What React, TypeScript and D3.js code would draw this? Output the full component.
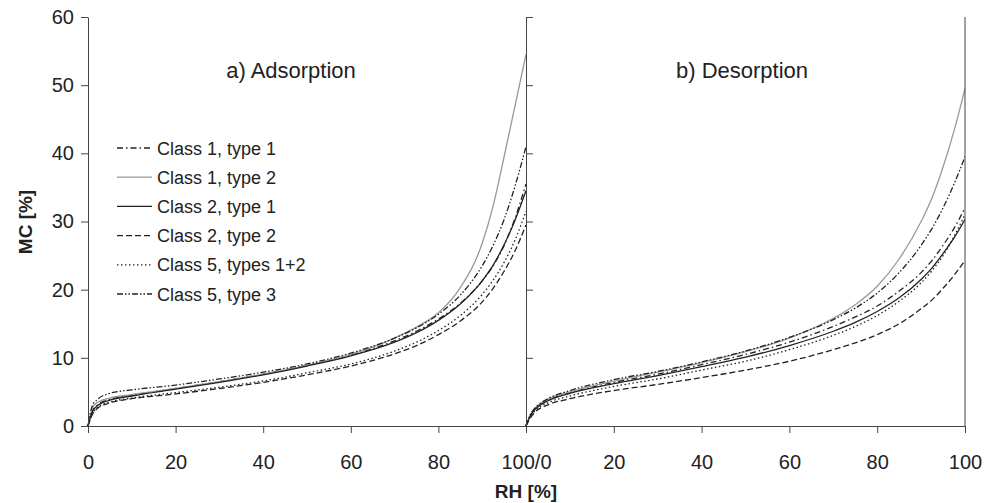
import React, { useEffect, useRef } from 'react';
import * as d3 from 'd3';

// relative humidity sample points (%)
const rh = [0, 1, 2, 5, 10, 20, 30, 40, 50, 60, 70, 75, 80, 85, 90, 92.5, 95, 97.5, 100];

// adsorption MC [%]
const adsC1T1 = [0, 2.2, 3.0, 3.9, 4.5, 5.5, 6.5, 7.6, 8.9, 10.4, 12.5, 13.9, 15.7, 18.0, 21.3, 23.5, 26.5, 30.5, 35.5];
const adsC1T2 = [0, 2.6, 3.4, 4.1, 4.6, 5.5, 6.5, 7.6, 8.9, 10.5, 12.9, 14.5, 16.6, 20.3, 26.8, 32.3, 39.5, 47.0, 54.5];
const adsC2T1 = [0, 2.1, 2.9, 3.8, 4.4, 5.4, 6.4, 7.5, 8.8, 10.3, 12.3, 13.7, 15.5, 17.9, 21.3, 23.6, 26.6, 30.2, 34.5];
const adsC2T2 = [0, 1.7, 2.5, 3.4, 4.0, 4.7, 5.5, 6.4, 7.5, 8.8, 10.6, 11.8, 13.4, 15.4, 18.2, 20.2, 22.7, 25.7, 29.5];
const adsC5T12 = [0, 1.8, 2.6, 3.5, 4.1, 4.9, 5.7, 6.6, 7.8, 9.1, 11.0, 12.3, 14.0, 16.2, 19.3, 21.4, 24.0, 27.3, 31.5];
const adsC5T3 = [0, 3.0, 3.8, 4.8, 5.3, 6.0, 6.9, 7.9, 9.1, 10.7, 12.9, 14.4, 16.4, 19.2, 23.5, 26.5, 30.3, 35.2, 41.0];

// desorption MC [%]
const desC1T1 = [0, 1.6, 2.5, 3.8, 4.9, 6.4, 7.6, 9.0, 10.5, 12.3, 14.6, 16.0, 17.6, 19.8, 22.5, 24.3, 26.5, 29.0, 32.0];
const desC1T2 = [0, 1.6, 2.5, 3.9, 5.0, 6.6, 7.9, 9.3, 10.9, 12.9, 15.8, 17.8, 20.5, 24.5, 30.0, 33.5, 38.0, 43.3, 49.5];
const desC2T1 = [0, 1.5, 2.4, 3.7, 4.8, 6.2, 7.4, 8.7, 10.1, 11.8, 13.9, 15.2, 16.8, 18.8, 21.5, 23.2, 25.3, 27.6, 30.3];
const desC2T2 = [0, 1.2, 2.0, 3.1, 4.0, 5.2, 6.1, 7.1, 8.2, 9.5, 11.2, 12.2, 13.4, 15.0, 17.2, 18.5, 20.2, 22.1, 24.3];
const desC5T12 = [0, 1.4, 2.2, 3.4, 4.4, 5.8, 6.9, 8.2, 9.5, 11.2, 13.3, 14.6, 16.2, 18.3, 21.0, 22.8, 25.0, 27.8, 31.0];
const desC5T3 = [0, 1.7, 2.6, 4.0, 5.2, 6.8, 8.0, 9.4, 11.0, 13.0, 15.6, 17.3, 19.5, 22.5, 26.5, 29.0, 32.0, 35.5, 39.5];

const seriesNames = ['Class 1, type 1', 'Class 1, type 2', 'Class 2, type 1', 'Class 2, type 2', 'Class 5, types 1+2', 'Class 5, type 3'];
const adsSeries = [adsC1T1, adsC1T2, adsC2T1, adsC2T2, adsC5T12, adsC5T3];
const desSeries = [desC1T1, desC1T2, desC2T1, desC2T2, desC5T12, desC5T3];

const yTicks = [0, 10, 20, 30, 40, 50, 60];
const xTicksLeft = [0, 20, 40, 60, 80];
const xTicksRight = [0, 20, 40, 60, 80, 100];

const styles = [
  { color: '#222', dash: '6,3,1.5,3' },
  { color: '#999', dash: null },
  { color: '#222', dash: null },
  { color: '#222', dash: '6,3' },
  { color: '#222', dash: '1.5,2.5' },
  { color: '#222', dash: '6,2,1.5,2,1.5,2' }
];

export default function App() {
  const svgRef = useRef<SVGSVGElement>(null);

  useEffect(() => {
    const width = 997;
    const height = 503;
    const font = 'Arial, "Liberation Sans", sans-serif';
    const axisColor = '#444';

    const svg = d3.select(svgRef.current);
    svg.selectAll('*').remove();
    svg.attr('width', width).attr('height', height);

    const xLeft = d3.scaleLinear().domain([0, 100]).range([88, 526]);
    const xRight = d3.scaleLinear().domain([0, 100]).range([526, 965]);
    const y = d3.scaleLinear().domain([0, 60]).range([426, 17]);

    // curves
    const drawPanel = (x: d3.ScaleLinear<number, number>, series: number[][]) => {
      series.forEach((vals, i) => {
        const line = d3.line<number>()
          .x((_, j) => x(rh[j]))
          .y(d => y(d))
          .curve(d3.curveMonotoneX);
        svg.append('path')
          .datum(vals)
          .attr('fill', 'none')
          .attr('stroke', styles[i].color)
          .attr('stroke-width', 1.3)
          .attr('stroke-dasharray', styles[i].dash)
          .attr('d', line);
      });
    };
    drawPanel(xLeft, adsSeries);
    drawPanel(xRight, desSeries);

    // y axis
    const yAxis = svg.append('g')
      .attr('transform', 'translate(88,0)')
      .call(d3.axisLeft(y).tickValues(yTicks).tickSize(7).tickSizeOuter(0).tickPadding(7));
    yAxis.selectAll('text').attr('font-size', 20).attr('font-family', font).attr('fill', '#222');

    // middle divider with ticks on the right
    svg.append('g')
      .attr('transform', 'translate(526,0)')
      .call(d3.axisRight(y).tickValues(yTicks).tickSize(7).tickSizeOuter(0).tickFormat(() => ''));

    // right border
    svg.append('line')
      .attr('x1', 965).attr('x2', 965)
      .attr('y1', y(60)).attr('y2', y(0))
      .attr('stroke', axisColor);

    // x axes
    const xAxisL = svg.append('g')
      .attr('transform', 'translate(0,426)')
      .call(d3.axisBottom(xLeft).tickValues(xTicksLeft).tickSize(7).tickSizeOuter(0).tickPadding(22));
    const xAxisR = svg.append('g')
      .attr('transform', 'translate(0,426)')
      .call(d3.axisBottom(xRight).tickValues(xTicksRight).tickSize(7).tickSizeOuter(0).tickPadding(22)
        .tickFormat(d => (d === 0 ? '100/0' : String(d))));
    [xAxisL, xAxisR].forEach(a => a.selectAll('text').attr('font-size', 20).attr('font-family', font).attr('fill', '#222'));

    svg.selectAll('.domain, .tick line').attr('stroke', axisColor);

    // axis titles
    svg.append('text')
      .attr('x', 526).attr('y', 498)
      .attr('text-anchor', 'middle')
      .attr('font-family', font).attr('font-size', 19).attr('font-weight', 'bold')
      .attr('fill', '#222')
      .text('RH [%]');

    svg.append('text')
      .attr('transform', 'translate(32,222) rotate(-90)')
      .attr('text-anchor', 'middle')
      .attr('font-family', font).attr('font-size', 19).attr('font-weight', 'bold')
      .attr('fill', '#222')
      .text('MC [%]');

    // panel titles
    svg.append('text')
      .attr('x', 291).attr('y', 78)
      .attr('text-anchor', 'middle')
      .attr('font-family', font).attr('font-size', 22)
      .attr('fill', '#222')
      .text('a) Adsorption');
    svg.append('text')
      .attr('x', 742).attr('y', 78)
      .attr('text-anchor', 'middle')
      .attr('font-family', font).attr('font-size', 22)
      .attr('fill', '#222')
      .text('b) Desorption');

    // legend
    const legend = svg.append('g').attr('transform', 'translate(117,148)');
    seriesNames.forEach((name, i) => {
      const g = legend.append('g').attr('transform', `translate(0,${i * 29.2})`);
      g.append('line')
        .attr('x1', 0).attr('x2', 35)
        .attr('y1', 0).attr('y2', 0)
        .attr('stroke', styles[i].color)
        .attr('stroke-width', 1.3)
        .attr('stroke-dasharray', styles[i].dash);
      g.append('text')
        .attr('x', 40).attr('y', 6.5)
        .attr('font-family', font).attr('font-size', 18)
        .attr('fill', '#222')
        .text(name);
    });
  }, []);

  return (
    <div>
      <svg ref={svgRef} style={{ position: 'absolute', left: 0, top: 0 }}></svg>
    </div>
  );
}
